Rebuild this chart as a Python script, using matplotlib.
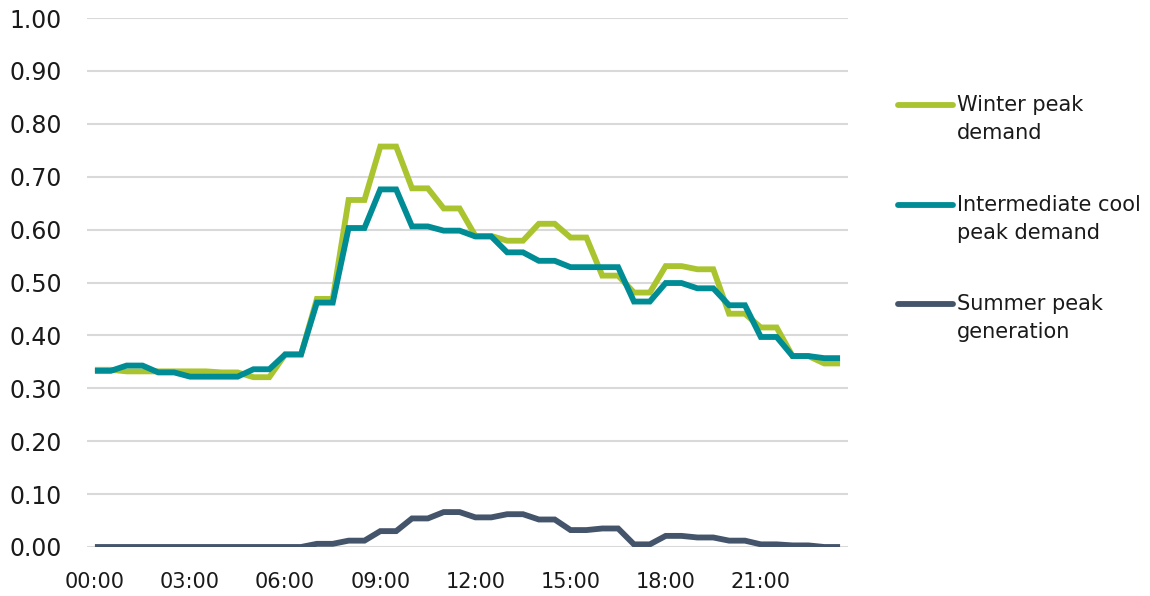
import matplotlib
matplotlib.use("Agg")
import matplotlib.pyplot as plt
from matplotlib.lines import Line2D
import numpy as np

# Half-hourly time slots across the day
times = [f"{h:02d}:{m:02d}" for h in range(24) for m in (0, 30)]
tick_labels = ["00:00", "03:00", "06:00", "09:00", "12:00", "15:00", "18:00", "21:00"]

# Hourly profile values (each held for both half-hour slots)
winter_hourly = [0.335, 0.332, 0.332, 0.332, 0.330, 0.321, 0.364, 0.469,
                 0.656, 0.757, 0.678, 0.640, 0.588, 0.579, 0.611, 0.585,
                 0.513, 0.481, 0.531, 0.525, 0.441, 0.415, 0.361, 0.347]
intermediate_hourly = [0.333, 0.343, 0.330, 0.322, 0.322, 0.336, 0.364, 0.462,
                       0.603, 0.676, 0.606, 0.598, 0.587, 0.557, 0.541, 0.529,
                       0.529, 0.464, 0.499, 0.489, 0.457, 0.397, 0.361, 0.357]
summer_hourly = [0.000, 0.000, 0.000, 0.000, 0.000, 0.000, 0.000, 0.006,
                 0.012, 0.030, 0.054, 0.066, 0.056, 0.062, 0.052, 0.032,
                 0.035, 0.005, 0.021, 0.018, 0.012, 0.005, 0.003, 0.000]

series = [
    ("Winter peak\ndemand", winter_hourly, "#A9C42F"),
    ("Intermediate cool\npeak demand", intermediate_hourly, "#008C95"),
    ("Summer peak\ngeneration", summer_hourly, "#44546A"),
]

plt.rcParams["font.family"] = ["DejaVu Sans"]

fig = plt.figure(figsize=(11.5, 5.96), dpi=100)
ax = fig.add_axes([87 / 1150, 49 / 596, 761 / 1150, 529 / 596])

x = np.arange(len(times))
for label, hourly, color in series:
    values = np.repeat(hourly, 2)
    ax.plot(x, values, color=color, lw=4.2, solid_joinstyle="miter",
            solid_capstyle="butt", zorder=3)

ax.set_xlim(-0.5, len(times) - 0.5)
ax.set_ylim(0, 1.0)
ax.set_yticks(np.arange(0, 1.01, 0.1))
ax.set_yticklabels([f"{v:.2f}" for v in np.arange(0, 1.01, 0.1)])
ax.set_xticks([times.index(t) for t in tick_labels])
ax.set_xticklabels(tick_labels)
ax.grid(axis="y", color="#D9D9D9", lw=1.5, zorder=0)
ax.grid(axis="x", visible=False)
for s in ax.spines.values():
    s.set_visible(False)
ax.tick_params(axis="both", length=0, colors="#1a1a1a")
ax.tick_params(axis="y", pad=18, labelsize=17)
ax.tick_params(axis="x", pad=18, labelsize=15)

# Legend drawn at the right, handle aligned with the first text line
legend_y = [105, 205, 304]
for (label, hourly, color), yp in zip(series, legend_y):
    yf = 1 - yp / 596
    fig.add_artist(Line2D([898 / 1150, 953 / 1150], [yf, yf], color=color,
                          lw=4.2, solid_capstyle="round", transform=fig.transFigure))
    fig.text(957 / 1150, yf + 10 / 596, label, fontsize=15, color="#1a1a1a",
             va="top", ha="left", linespacing=1.53)

fig.savefig("out.png", dpi=100)
